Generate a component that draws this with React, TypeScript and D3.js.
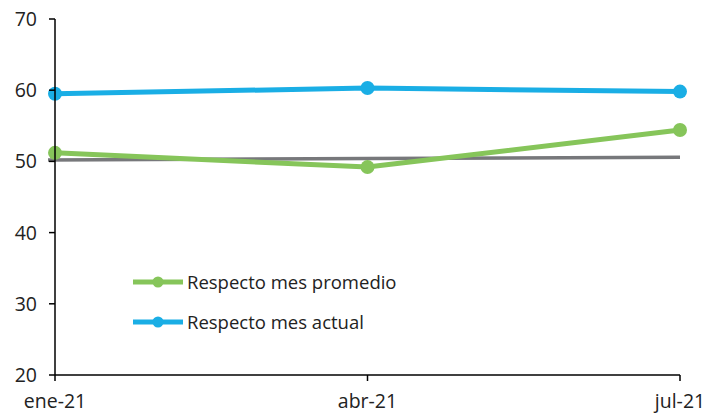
import React from "react";
import * as d3 from "d3";

const categories = ["ene-21", "abr-21", "jul-21"];
const promedio = [51.2, 49.2, 54.4];
const actual = [59.5, 60.3, 59.8];
const referencia = [50.2, 50.4, 50.6];
const yTicks = [20, 30, 40, 50, 60, 70];
const legendItems = [
  { label: "Respecto mes promedio", color: "#86c55a" },
  { label: "Respecto mes actual", color: "#1aaee5" },
];

const W = 708;
const H = 413;
const left = 55;
const right = 680;
const top = 19;
const bottom = 375;
const font = "'Open Sans', 'Noto Sans', sans-serif";

export default function App() {
  const x = d3.scalePoint<string>().domain(categories).range([left, right]);
  const y = d3.scaleLinear().domain([20, 70]).range([bottom, top]);
  const line = d3
    .line<number>()
    .x((_, i) => x(categories[i]) as number)
    .y((d) => y(d));

  const refPath = d3
    .line<number>()
    .x((_, i) => (i === 0 ? left - 7 : (x(categories[i]) as number)))
    .y((d) => y(d))(referencia) as string;

  const series = [
    { values: promedio, color: legendItems[0].color },
    { values: actual, color: legendItems[1].color },
  ];

  return (
    <svg width={W} height={H} style={{ position: "absolute", left: 0, top: 0 }}>
      <rect width={W} height={H} fill="#fff" />
      <path d={refPath} fill="none" stroke="#77787b" strokeWidth={3.5} />
      {series.map((s, si) => (
        <g key={si}>
          <path d={line(s.values) as string} fill="none" stroke={s.color} strokeWidth={5} />
          {s.values.map((v, i) => (
            <circle key={i} cx={x(categories[i])} cy={y(v)} r={7} fill={s.color} />
          ))}
        </g>
      ))}
      {/* axes */}
      <line x1={left} x2={left} y1={top} y2={bottom} stroke="#000" strokeWidth={1.5} />
      <line x1={left} x2={right} y1={bottom} y2={bottom} stroke="#000" strokeWidth={1.5} />
      {yTicks.map((t) => (
        <g key={t}>
          <line x1={left - 6} x2={left} y1={y(t)} y2={y(t)} stroke="#000" strokeWidth={1.5} />
          <text
            x={left - 18}
            y={y(t)}
            dy="0.36em"
            textAnchor="end"
            fontFamily={font}
            fontSize={19.5}
            fill="#222"
          >
            {t}
          </text>
        </g>
      ))}
      {categories.map((c) => (
        <g key={c}>
          <line x1={x(c)} x2={x(c)} y1={bottom} y2={bottom + 6} stroke="#000" strokeWidth={1.5} />
          <text
            x={x(c)}
            y={bottom + 33}
            textAnchor="middle"
            fontFamily={font}
            fontSize={19.5}
            fill="#222"
          >
            {c}
          </text>
        </g>
      ))}
      {/* legend */}
      {legendItems.map((it, i) => {
        const ly = 282 + i * 40;
        return (
          <g key={it.label}>
            <line x1={133} x2={183} y1={ly} y2={ly} stroke={it.color} strokeWidth={5} />
            <circle cx={158} cy={ly} r={5.5} fill={it.color} />
            <text x={187} y={ly} dy="0.36em" fontFamily={font} fontSize={18.5} fill="#222">
              {it.label}
            </text>
          </g>
        );
      })}
    </svg>
  );
}
